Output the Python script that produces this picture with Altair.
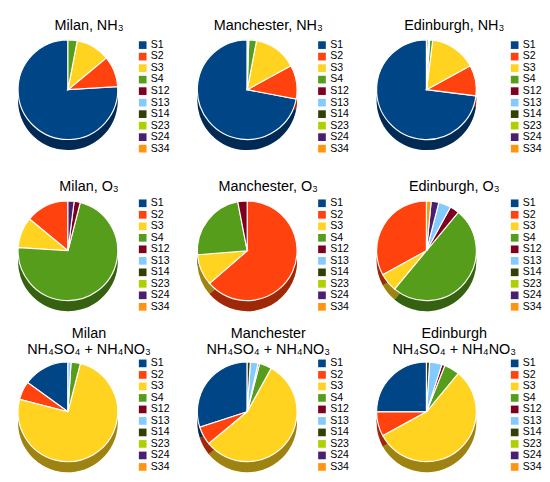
import math
import altair as alt
import pandas as pd

sources = ["S1", "S2", "S3", "S4", "S12", "S13", "S14", "S23", "S24", "S34"]
colors = ["#004586", "#ff420e", "#ffd320", "#579d1c", "#7e0021",
          "#83caff", "#314004", "#aecf00", "#4b1f6f", "#ff950e"]

titles = [
    ["Milan, NH₃"], ["Manchester, NH₃"], ["Edinburgh, NH₃"],
    ["Milan, O₃"], ["Manchester, O₃"], ["Edinburgh, O₃"],
    ["Milan", "NH₄SO₄ + NH₄NO₃"], ["Manchester", "NH₄SO₄ + NH₄NO₃"],
    ["Edinburgh", "NH₄SO₄ + NH₄NO₃"],
]

# shares (%) in legend order S1, S2, S3, S4, S12, S13, S14, S23, S24, S34
milan_nh3 = [76, 10, 11, 3, 0, 0, 0, 0, 0, 0]
manchester_nh3 = [72, 11, 14, 2.5, 0, 0.5, 0, 0, 0, 0]
edinburgh_nh3 = [73, 10, 15, 1, 0, 0.5, 0.5, 0, 0, 0]
milan_o3 = [0, 14, 10, 72, 2, 0, 0, 0, 2, 0]
manchester_o3 = [0, 63, 10, 23, 3, 0, 0, 0, 0, 0]
edinburgh_o3 = [0, 33, 6, 50, 3, 4, 0, 0, 2.5, 1.5]
milan_nh4 = [15, 6, 75, 3, 0, 1, 0, 0, 0, 0]
manchester_nh4 = [30, 6, 56, 4, 0.5, 2.5, 1, 0, 0, 0]
edinburgh_nh4 = [25, 8, 56, 5, 1, 4, 1, 0, 0, 0]

values = [milan_nh3, manchester_nh3, edinburgh_nh3,
          milan_o3, manchester_o3, edinburgh_o3,
          milan_nh4, manchester_nh4, edinburgh_nh4]
clockwise = [False, False, False, False, True, False, False, False, False]

records = []
for p, vals in enumerate(values):
    for i, (s, v) in enumerate(zip(sources, vals)):
        if v > 0:
            records.append({"panel": p, "src": s, "idx": i, "val": v})
df = pd.DataFrame(records)

R = 52
DEPTH = 11
row_height = [146, 134, 110]
row_center = [52, 55, 56]
row_title_offset = [5, 4, 1]
col_legend_offset = [10, 10, 24]
FONT = "Liberation Sans"


def panel(p, row, col):
    rng = [0, 2 * math.pi] if clockwise[p] else [2 * math.pi, 0]
    base = alt.Chart(df).transform_filter(alt.datum.panel == p)
    theta = alt.Theta("val:Q", stack=True, scale=alt.Scale(range=rng))
    color = alt.Color(
        "src:N",
        scale=alt.Scale(domain=sources, range=colors),
        legend=alt.Legend(
            title=None, orient="right", offset=col_legend_offset[col],
            symbolType="square", symbolSize=64, symbolStrokeWidth=0,
            labelFontSize=11, labelFont=FONT, labelColor="black",
            rowPadding=0, padding=0, labelOffset=3,
        ),
    )
    order = alt.Order("idx:Q")
    cy = alt.value(row_center[row])
    side = base.mark_arc(outerRadius=R, yOffset=DEPTH).encode(
        theta=theta, color=color, order=order, y=cy)
    shade = base.mark_arc(outerRadius=R, yOffset=DEPTH, color="black",
                          opacity=0.38).encode(
        theta=theta, detail="src:N", order=order, y=cy)
    top = base.mark_arc(outerRadius=R, stroke="white", strokeWidth=1.2).encode(
        theta=theta, color=color, order=order, y=cy)
    return alt.layer(side, shade, top).properties(
        width=125, height=row_height[row],
        title=alt.TitleParams(
            text=titles[p], fontSize=15, font=FONT, fontWeight="normal",
            anchor="middle", frame="bounds", offset=row_title_offset[row],
            lineHeight=16.5, color="black",
        ),
    )


rows = []
for r in range(3):
    rows.append(
        alt.hconcat(*[panel(3 * r + c, r, c) for c in range(3)], spacing=18)
        .resolve_scale(color="independent", theta="independent")
    )

chart = (
    alt.vconcat(*rows, spacing=0)
    .resolve_scale(color="independent", theta="independent")
    .properties(padding=0)
    .configure_view(stroke=None)
)

chart.save("out.html", embed_options={"renderer": "svg", "actions": False})
